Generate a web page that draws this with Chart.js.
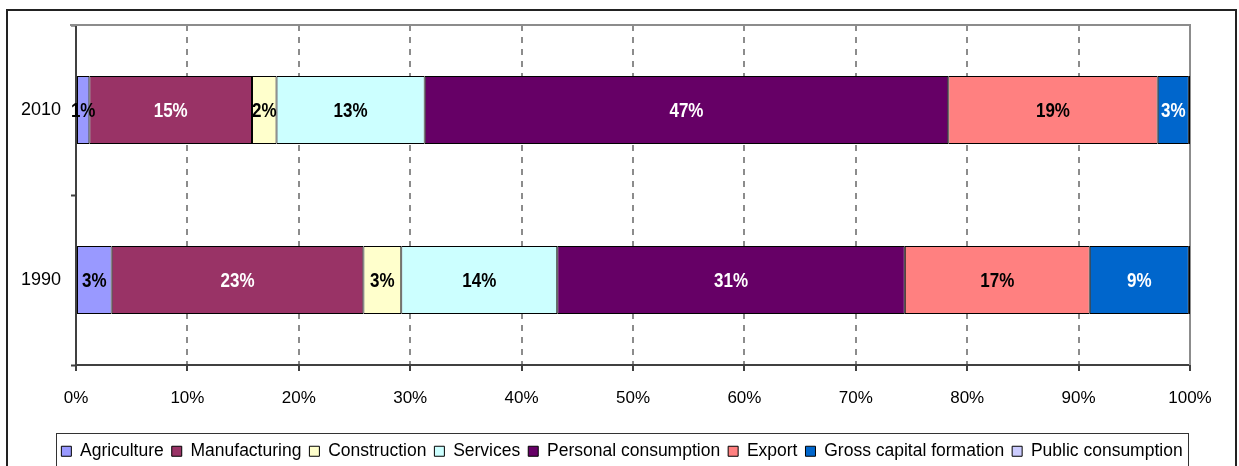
<!DOCTYPE html>
<html>
<head>
<meta charset="utf-8">
<script src="https://cdn.jsdelivr.net/npm/chart.js@4.4.1/dist/chart.umd.min.js"></script>
<style>
  html, body { margin: 0; padding: 0; background: #fff; overflow: hidden; }
</style>
</head>
<body>
<canvas id="graficoBar" width="1239" height="466"></canvas>
<script>
const years = ["2010", "1990"]
const sectors = ["Agriculture", "Manufacturing", "Construction", "Services",
  "Personal consumption", "Export", "Gross capital formation", "Public consumption"]
// share of each sector, in percent, per year (same order as sectors)
const share2010 = [1.2, 14.6, 2.2, 13.3, 47.0, 18.8, 2.8, 0.1]
const share1990 = [3.2, 22.6, 3.4, 14.0, 31.2, 16.6, 8.9, 0.1]
const xTicks = [0, 10, 20, 30, 40, 50, 60, 70, 80, 90, 100]

const fillColors = ["#9999FF", "#993366", "#FFFFCC", "#CCFFFF", "#660066", "#FF8080", "#0066CC", "#CCCCFF"]
const textColors = ["#000", "#fff", "#000", "#000", "#fff", "#000", "#fff", "#000"]

const fontFam = "'Liberation Sans', Arial, sans-serif"

const datasets = sectors.map((name, i) => ({
  label: name,
  data: [share2010[i], share1990[i]],
  backgroundColor: fillColors[i],
  borderColor: "#000",
  borderWidth: 1,
  borderSkipped: false,
  barPercentage: 0.4,
  categoryPercentage: 1
}))

// frame round the whole picture, plot border, legend box and the % labels
const extras = {
  id: "extras",
  afterUpdate(chart) {
    // legend sits a bit right of the canvas centre
    const lg = chart.legend
    lg.left += 27
    lg.right += 27
  },
  beforeDraw(chart) {
    const ctx = chart.ctx
    ctx.save()
    ctx.strokeStyle = "#222"
    ctx.lineWidth = 2
    ctx.strokeRect(7, 10, 1229, 470)
    ctx.restore()
  },
  beforeDatasetsDraw(chart) {
    const { ctx, chartArea: a } = chart
    ctx.save()
    ctx.strokeStyle = "#8c8c8c"
    ctx.lineWidth = 2
    ctx.beginPath()
    ctx.moveTo(a.left - 6, a.top)
    ctx.lineTo(a.right, a.top)
    ctx.lineTo(a.right, a.bottom)
    ctx.stroke()
    ctx.restore()
  },
  afterDatasetsDraw(chart) {
    const ctx = chart.ctx
    chart.data.datasets.forEach((ds, i) => {
      const meta = chart.getDatasetMeta(i)
      meta.data.forEach((bar, j) => {
        const pct = Math.round(ds.data[j])
        if (pct < 1) return
        ctx.save()
        // labels are a little taller than the plain bold face
        ctx.translate((bar.x + bar.base) / 2, bar.y + 1)
        ctx.scale(1, 1.22)
        ctx.font = "bold 17px " + fontFam
        ctx.textAlign = "center"
        ctx.textBaseline = "middle"
        ctx.fillStyle = textColors[i]
        ctx.fillText(pct + "%", 0, 0)
        ctx.restore()
      })
    })
  },
  afterDraw(chart) {
    const lg = chart.legend
    if (!lg.lineWidths) return
    const pad = lg.options.labels.padding
    const lw = lg.lineWidths[0]
    const x0 = (lg.left + pad + lg.right - lw) / 2
    const left = x0 - 5
    const right = x0 + lw - pad + 6
    const top = lg.top + pad - 10
    const ctx = chart.ctx
    ctx.save()
    ctx.strokeStyle = "#333"
    ctx.lineWidth = 1
    ctx.strokeRect(Math.round(left) + 0.5, Math.round(top) + 0.5, Math.round(right - left), 60)
    ctx.restore()
  }
}

new Chart(document.getElementById("graficoBar"), {
  type: "bar",
  data: { labels: years, datasets: datasets },
  options: {
    indexAxis: "y",
    responsive: false,
    animation: false,
    layout: { padding: { left: 0, top: 25, right: 49, bottom: -4 } },
    scales: {
      x: {
        stacked: true,
        min: 0,
        max: 100,
        afterBuildTicks: s => { s.ticks = xTicks.map(v => ({ value: v })) },
        afterFit: s => { s.height = 69.5 },
        ticks: {
          callback: v => v + "%",
          color: "#000",
          font: { family: fontFam, size: 17 },
          padding: 17,
          maxRotation: 0,
          autoSkip: false
        },
        grid: {
          color: c => (c.tick && (c.tick.value === 0)) ? "rgba(0,0,0,0)" : "#8c8c8c",
          lineWidth: 2,
          tickColor: "#404040",
          tickWidth: 2,
          tickLength: 6
        },
        border: { color: "#404040", width: 2, dash: [6, 6] }
      },
      y: {
        stacked: true,
        afterFit: s => { s.width = 76 },
        ticks: {
          color: "#000",
          font: { family: fontFam, size: 18 },
          padding: 10
        },
        grid: {
          offset: true,
          drawOnChartArea: false,
          tickColor: "#404040",
          tickWidth: 2,
          tickLength: 5
        },
        border: { color: "#404040", width: 2 }
      }
    },
    plugins: {
      tooltip: { enabled: false },
      legend: {
        position: "bottom",
        labels: {
          boxWidth: 10,
          boxHeight: 10,
          padding: 8,
          color: "#000",
          font: { family: fontFam, size: 17.5 }
        }
      }
    }
  },
  plugins: [extras]
})
</script>
</body>
</html>
